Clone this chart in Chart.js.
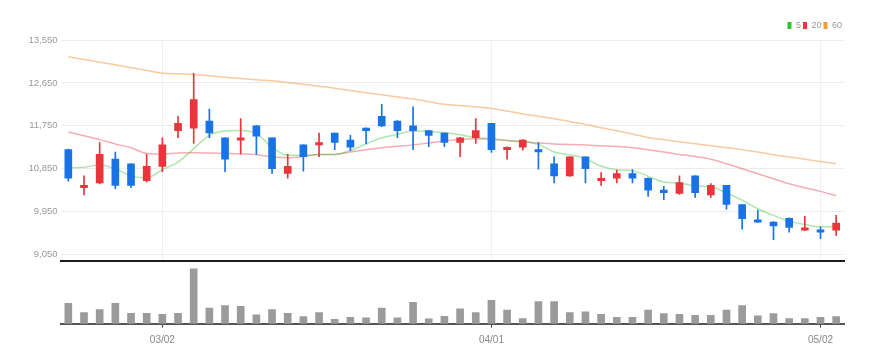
<!DOCTYPE html>
<html><head><meta charset="utf-8">
<script src="https://cdn.jsdelivr.net/npm/chart.js@4"></script>
<style>
html,body{margin:0;padding:0;background:#fff;width:881px;height:363px;overflow:hidden}
#w1{position:absolute;left:0;top:0;width:881px;height:264px}
#w2{position:absolute;left:0;top:262px;width:881px;height:101px}
</style></head><body>
<div id="w1"><canvas id="c1"></canvas></div>
<div id="w2"><canvas id="c2"></canvas></div>
<script>
const dates = ['02/21','02/22','02/23','02/24','02/25','02/28',
 '03/02','03/03','03/04','03/07','03/08','03/10','03/11','03/14','03/15','03/16','03/17','03/18',
 '03/21','03/22','03/23','03/24','03/25','03/28','03/29','03/30','03/31',
 '04/01','04/04','04/05','04/06','04/07','04/08','04/11','04/12','04/13','04/14','04/15',
 '04/18','04/19','04/20','04/21','04/22','04/25','04/26','04/27','04/28','04/29','05/02','05/03'];
const shownDates = ['03/02','04/01','05/02'];
const priceTicks = [9050, 9950, 10850, 11750, 12650, 13550];

const openP  = [11250,10450,10550,11050,10950,10600,10900,11650,11700,11850,11500,11450,11750,11500,10750,11350,11350,11600,11450,11700,11950,11850,11750,11650,11600,11400,11500,11800,11250,11300,11250,10950,10700,11100,10600,10650,10750,10650,10400,10330,10700,10300,10500,10100,9780,9730,9810,9560,9570,9560];
const highP  = [11260,10700,11400,11200,10950,11150,11500,11950,12850,12100,11500,11900,11760,11500,11150,11350,11600,11600,11550,11710,12200,11860,12150,11650,11600,11510,11900,11800,11310,11460,11400,11100,11100,11100,10770,10820,10830,10660,10480,10700,10700,10540,10500,10100,9980,9740,9820,9850,9630,9870];
const lowP   = [10590,10300,10530,10430,10450,10570,10790,11500,11380,11500,10790,11160,11150,10750,10650,10800,11100,11250,11230,11370,11730,11500,11250,11310,11310,11100,11380,11190,11050,11240,10840,10550,10690,10550,10500,10550,10550,10270,10200,10310,10250,10250,10000,9580,9725,9360,9520,9550,9380,9450];
const closeP = [10650,10500,11150,10500,10500,10900,11350,11800,12300,11600,11050,11500,11530,10850,10900,11100,11400,11400,11300,11650,11750,11650,11650,11550,11400,11500,11650,11250,11300,11450,11200,10700,11100,10850,10650,10750,10650,10400,10350,10560,10350,10500,10100,9800,9730,9650,9620,9610,9520,9710];

const ma5  = [10870,10880,10930,10850,10700,10660,10830,10990,11270,11550,11640,11650,11590,11300,11130,11130,11150,11150,11230,11370,11500,11570,11640,11630,11610,11560,11500,11480,11440,11420,11360,11200,11140,11060,10900,10830,10810,10690,10570,10550,10490,10470,10340,10190,10010,9870,9750,9680,9630,9630];
const ma20 = [11620,11540,11460,11370,11290,11170,11160,11180,11185,11180,11170,11160,11145,11095,11080,11105,11150,11150,11200,11250,11290,11320,11350,11390,11430,11470,11480,11470,11440,11415,11390,11370,11360,11345,11330,11315,11290,11250,11200,11150,11105,11050,10955,10850,10745,10640,10535,10450,10375,10285];
const ma60 = [13200,13140,13085,13030,12970,12910,12855,12840,12825,12800,12770,12740,12715,12695,12660,12620,12580,12540,12490,12445,12400,12355,12315,12255,12200,12175,12150,12115,12060,12000,11950,11900,11840,11780,11710,11645,11580,11500,11460,11415,11375,11330,11290,11250,11200,11145,11095,11050,11000,10955];

const volume = [200000,110000,140000,200000,103000,103000,93000,103000,540000,153000,177000,170000,87000,140000,103000,70000,110000,43000,63000,57000,153000,57000,210000,47000,73000,147000,110000,230000,133000,50000,217000,217000,110000,117000,93000,63000,63000,133000,100000,93000,83000,83000,133000,177000,77000,100000,50000,50000,63000,70000];

Chart.defaults.font.family = "'Liberation Sans Narrow','Liberation Sans',sans-serif";
Chart.defaults.animation = false;

const UP = '#e9353b', DOWN = '#1873e6';
const candleColors = openP.map((o, i) => closeP[i] > o ? UP : DOWN);
const shownIdx = dates.map((d, i) => shownDates.includes(d) ? i : -1).filter(i => i >= 0);

function lineDs(label, data, color, legendColor, order) {
  return {type: 'line', label, data, borderColor: color, backgroundColor: color, legendColor,
    borderWidth: 1.5, pointRadius: 0, cubicInterpolationMode: 'monotone', order};
}

new Chart(document.getElementById('c1'), {
  type: 'bar',
  data: {
    labels: dates,
    datasets: [
      {label: 'body', data: openP.map((o, i) => [o, closeP[i]]), backgroundColor: candleColors, barThickness: 7, grouped: false, order: 0},
      {label: 'wick', data: lowP.map((l, i) => [l, highP[i]]), backgroundColor: candleColors, barThickness: 1, grouped: false, order: 1},
      lineDs('5', ma5, 'rgba(70,200,70,0.45)', '#2ec42e', 2),
      lineDs('20', ma20, 'rgba(238,70,80,0.45)', '#f0323c', 3),
      lineDs('60', ma60, 'rgba(242,150,60,0.5)', '#f39a3a', 4)
    ]
  },
  options: {
    responsive: true, maintainAspectRatio: false,
    layout: {padding: {left: 0, right: 37, top: 19, bottom: 3}},
    plugins: {
      tooltip: {enabled: false},
      legend: {
        position: 'top', align: 'end',
        labels: {
          boxWidth: 4, boxHeight: 7, padding: 2, color: '#999', font: {size: 9},
          generateLabels: chart => chart.data.datasets
            .map((d, i) => ({text: d.label, fillStyle: d.legendColor, strokeStyle: d.legendColor, lineWidth: 0, hidden: false, datasetIndex: i, fontColor: '#999'}))
            .filter(it => ['5', '20', '60'].includes(it.text))
        }
      }
    },
    scales: {
      x: {
        offset: true,
        grid: {display: true, offset: false, drawTicks: false, color: c => shownIdx.includes(c.index) ? '#efefef' : 'rgba(0,0,0,0)'},
        border: {display: true, color: '#1c1c1c', width: 2},
        ticks: {display: false}
      },
      y: {
        min: 8914, max: 13550,
        afterBuildTicks: s => { s.ticks = priceTicks.map(v => ({value: v})); },
        afterFit: s => { s.width = 60.5; s.paddingTop = 0; s.paddingBottom = 0; },
        grid: {color: '#ececec', drawTicks: false},
        border: {display: false},
        ticks: {padding: 3, color: '#999', font: {size: 9.5}, callback: v => Number(v).toLocaleString('en-US')}
      }
    }
  }
});

new Chart(document.getElementById('c2'), {
  type: 'bar',
  data: {labels: dates, datasets: [{label: 'volume', data: volume, backgroundColor: '#9b9b9b', barThickness: 7}]},
  options: {
    responsive: true, maintainAspectRatio: false,
    layout: {padding: {left: 60.5, right: 37, top: 3, bottom: 9.3}},
    plugins: {legend: {display: false}, tooltip: {enabled: false}},
    scales: {
      x: {
        offset: true,
        grid: {display: true, offset: false, drawOnChartArea: false, drawTicks: true, tickLength: 4,
          color: c => shownIdx.includes(c.index) ? '#444' : 'rgba(0,0,0,0)',
          tickColor: c => shownIdx.includes(c.index) ? '#444' : 'rgba(0,0,0,0)'},
        border: {display: true, color: '#555', width: 2},
        ticks: {autoSkip: false, maxRotation: 0, minRotation: 0, padding: 7, color: '#888', font: {size: 10},
          callback: (v, i) => shownDates.includes(dates[i]) ? dates[i] : ''}
      },
      y: {display: false, min: 0, max: 577000}
    }
  }
});
</script>
</body></html>
